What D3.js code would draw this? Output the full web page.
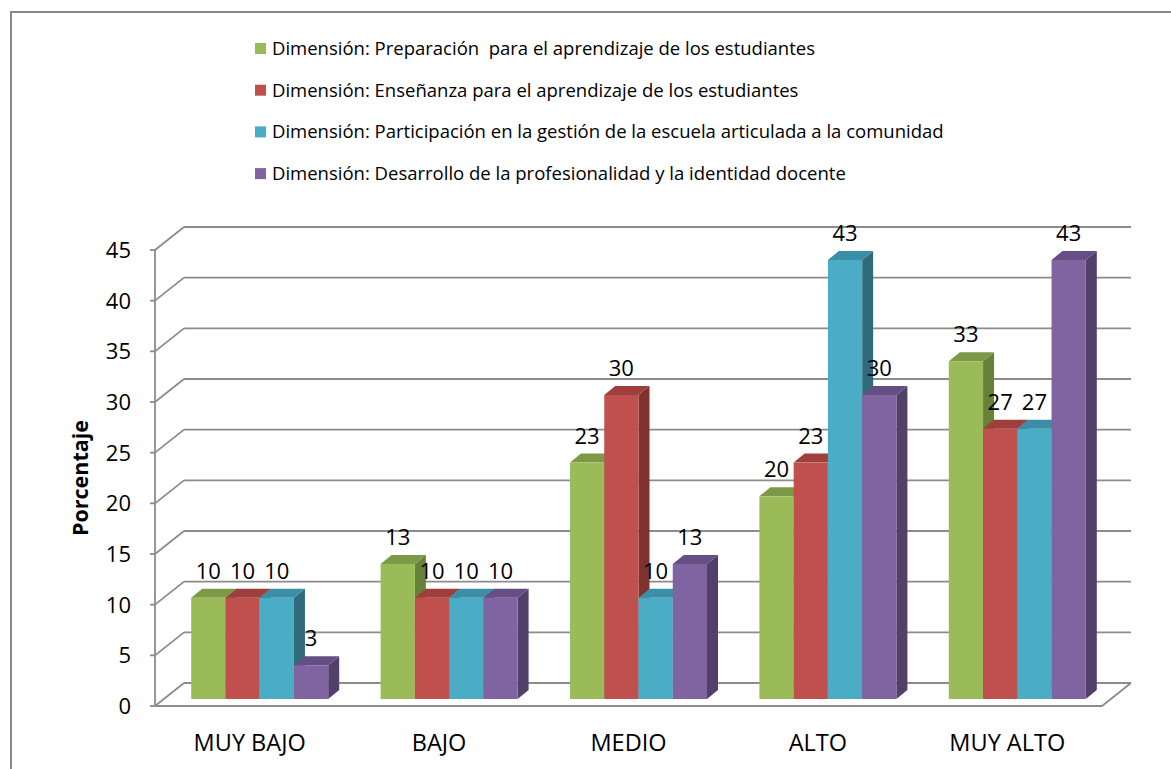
<!DOCTYPE html>
<html>
<head>
<meta charset="utf-8">
<script src="https://cdn.jsdelivr.net/npm/d3@7"></script>
<style>
  body { margin: 0; background: #fff; }
  svg text { font-family: "Open Sans", "Liberation Sans", Arial, sans-serif; fill: #000; }
</style>
</head>
<body>
<svg id="chart" width="1171" height="769"></svg>
<script>
var categories = ["MUY BAJO", "BAJO", "MEDIO", "ALTO", "MUY ALTO"];
var seriesNames = [
  "Dimensión: Preparación  para el aprendizaje de los estudiantes",
  "Dimensión: Enseñanza para el aprendizaje de los estudiantes",
  "Dimensión: Participación en la gestión de la escuela articulada a la comunidad",
  "Dimensión: Desarrollo de la profesionalidad y la identidad docente"
];
var preparacion = [10, 13.33, 23.33, 20, 33.33];
var ensenanza = [10, 10, 30, 23.33, 26.67];
var participacion = [10, 10, 10, 43.33, 26.67];
var desarrollo = [3.33, 10, 13.33, 30, 43.33];
var yTicks = [0, 5, 10, 15, 20, 25, 30, 35, 40, 45];

var seriesValues = [preparacion, ensenanza, participacion, desarrollo];
var frontColors = ["#9BBB59", "#C0504D", "#4BACC6", "#8064A2"];
var topColors = ["#7C9A45", "#9E3F3C", "#3A8EA5", "#654E84"];
var sideColors = ["#67803A", "#7E312F", "#2F6B7B", "#523F6A"];

var svg = d3.select("#chart");

// outer frame
svg.append("rect")
  .attr("x", 11).attr("y", 12)
  .attr("width", 1300).attr("height", 900)
  .style("fill", "none")
  .style("stroke", "#888")
  .style("stroke-width", "2px");

// plot geometry (front plane + depth offset of the walls)
var x0 = 155, x1 = 1102, dx = 29, dy = -23;
var y = d3.scaleLinear().domain([0, 45]).range([706, 250]);
var x = d3.scaleBand().domain(categories).range([x0, x1]);
var groupW = 137;
var xs = d3.scaleBand().domain(d3.range(4)).range([0, groupW]);
var ox = 10, oy = -7;     // bars sit a bit inside the floor
var bdx = 11, bdy = -9;   // bar depth
var gridColor = "#8c8c8c";

var grid = svg.append("g").style("stroke", gridColor).style("stroke-width", "1.8px").style("fill", "none");

yTicks.forEach(function(t) {
  var yy = y(t);
  grid.append("line").attr("x1", x0 - 5).attr("x2", x0).attr("y1", yy).attr("y2", yy);
  grid.append("line").attr("x1", x0).attr("y1", yy).attr("x2", x0 + dx).attr("y2", yy + dy);
  grid.append("line").attr("x1", x0 + dx).attr("y1", yy + dy).attr("x2", x1 + dx).attr("y2", yy + dy);
});

// floor
grid.append("path")
  .attr("d", "M" + x0 + "," + y(0) + "L" + x1 + "," + y(0) + "L" + (x1 + dx) + "," + (y(0) + dy));
// vertical axis
grid.append("line").attr("x1", x0).attr("x2", x0).attr("y1", y(45)).attr("y2", y(0));

// y tick labels
svg.append("g").selectAll("text")
  .data(yTicks)
  .enter().append("text")
  .attr("x", 131)
  .attr("y", function(d) { return y(d); })
  .attr("dy", "0.36em")
  .attr("text-anchor", "end")
  .style("font-size", "22px")
  .text(function(d) { return d; });

// axis title
svg.append("text")
  .attr("transform", "translate(88,478) rotate(-90)")
  .attr("text-anchor", "middle")
  .style("font-size", "21.5px")
  .style("font-weight", "bold")
  .text("Porcentaje");

// category labels
svg.append("g").selectAll("text")
  .data(categories)
  .enter().append("text")
  .attr("x", function(d) { return x(d) + x.bandwidth() / 2; })
  .attr("y", 751)
  .attr("text-anchor", "middle")
  .style("font-size", "23.5px")
  .text(function(d) { return d; });

// bars, drawn left to right so each one covers its neighbour's side
var bars = svg.append("g");
var labels = svg.append("g");
var base = y(0) + oy;

categories.forEach(function(c, ci) {
  var gx = x(c) + (x.bandwidth() - groupW) / 2 + ox;
  seriesValues.forEach(function(vals, si) {
    var v = vals[ci];
    var bx = gx + xs(si), bw = xs.bandwidth();
    var by = y(v) + oy;
    // side
    bars.append("path")
      .attr("d", "M" + (bx + bw) + "," + base + "L" + (bx + bw + bdx) + "," + (base + bdy) +
        "L" + (bx + bw + bdx) + "," + (by + bdy) + "L" + (bx + bw) + "," + by + "Z")
      .style("fill", sideColors[si]);
    // top
    bars.append("path")
      .attr("d", "M" + bx + "," + by + "L" + (bx + bdx) + "," + (by + bdy) +
        "L" + (bx + bw + bdx) + "," + (by + bdy) + "L" + (bx + bw) + "," + by + "Z")
      .style("fill", topColors[si]);
    // front
    bars.append("rect")
      .attr("x", bx).attr("y", by)
      .attr("width", bw).attr("height", base - by)
      .style("fill", frontColors[si]);

    labels.append("text")
      .attr("x", bx + bw / 2)
      .attr("y", by - 19)
      .attr("text-anchor", "middle")
      .style("font-size", "22px")
      .text(Math.round(v));
  });
});

// legend
var legend = svg.append("g");
seriesNames.forEach(function(name, i) {
  var ly = 48.5 + i * 41.7;
  legend.append("rect")
    .attr("x", 255).attr("y", ly - 5.5)
    .attr("width", 11).attr("height", 11)
    .style("fill", frontColors[i]);
  legend.append("text")
    .attr("x", 272).attr("y", ly)
    .attr("dy", "0.35em")
    .style("font-size", "18.5px")
    .style("white-space", "pre")
    .text(name);
});
</script>
</body>
</html>
